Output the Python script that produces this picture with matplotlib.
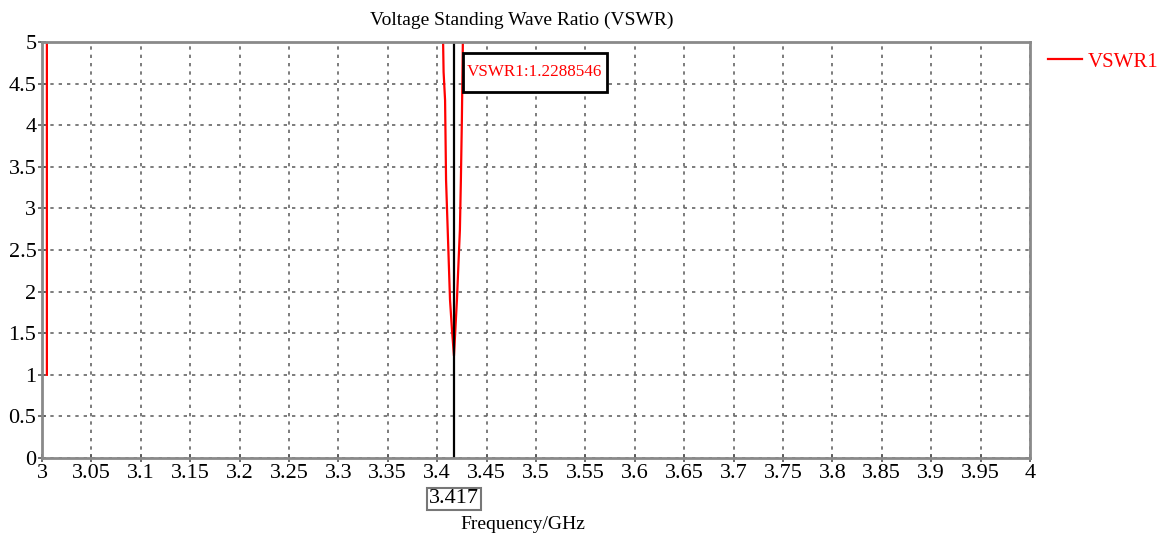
import numpy as np
import matplotlib.pyplot as plt
from matplotlib.patches import Rectangle
from matplotlib.ticker import MultipleLocator

plt.rcParams['font.family'] = ['Liberation Serif', 'DejaVu Serif']

# VSWR sweep, values above 5 run off the top of the plot
freq = [3.005, 3.005, 3.2, 3.405, 3.406, 3.4065, 3.408, 3.409, 3.411, 3.413, 3.415,
        3.417, 3.420, 3.423, 3.424, 3.425, 3.426, 3.427, 3.6, 4.0]
vswr = [1.0, 6.0, 6.0, 6.0, 5.0, 4.64, 4.3, 3.34, 2.62, 1.9, 1.54,
        1.2288546, 1.9, 2.74, 3.34, 4.06, 5.0, 6.0, 6.0, 6.0]
marker_freq = 3.417
marker_vswr = 1.2288546

fig = plt.figure(figsize=(11.62, 5.35), dpi=100)
ax = fig.add_axes([0.0361, 0.1439, 0.8503, 0.7776])

ax.plot(freq, vswr, color='red', lw=1.6, label='VSWR1')
ax.axvline(marker_freq, color='black', lw=1.6)

ax.set_xlim(3.0, 4.0)
ax.set_ylim(0, 5)
ax.xaxis.set_major_locator(MultipleLocator(0.05))
ax.yaxis.set_major_locator(MultipleLocator(0.5))
ax.set_xticklabels([f'{v:g}' for v in np.round(ax.get_xticks(), 2)])
ax.set_yticklabels([f'{v:g}' for v in np.round(ax.get_yticks(), 2)])
ax.grid(True, color='#666666', ls=(0, (2, 3)), lw=1.2)
ax.tick_params(direction='inout', length=6, width=1.2, color='#555555',
               labelsize=16, pad=1)
for s in ax.spines.values():
    s.set_color('#8a8a8a')
    s.set_linewidth(2)

# marker readout box
ax.add_patch(Rectangle((0.4261, 0.880), 0.1458, 0.0936, transform=ax.transAxes,
                       fc='white', ec='black', lw=2, zorder=5))
ax.text(0.499, 0.927, f'VSWR1:{marker_vswr:.7f}', transform=ax.transAxes,
        color='red', fontsize=12.3, ha='center', va='center', zorder=6)

ax.annotate(f'{marker_freq:g}', xy=(marker_freq, 0), xycoords=('data', 'axes fraction'),
            xytext=(0, -29.5), textcoords='offset points', ha='center', va='center',
            fontsize=16,
            bbox=dict(boxstyle='square,pad=0.08', fc='white', ec='#777777', lw=1.5))

fig.text(0.449, 0.962, 'Voltage Standing Wave Ratio (VSWR)', ha='center', va='center',
         fontsize=14)
fig.text(0.450, 0.019, 'Frequency/GHz', ha='center', va='center', fontsize=14)

leg = fig.legend(loc='upper left', bbox_to_anchor=(0.886, 0.938), frameon=False,
                 fontsize=15, handlelength=1.6, handletextpad=0.3)
for t in leg.get_texts():
    t.set_color('red')

fig.savefig('out.png', dpi=100)
